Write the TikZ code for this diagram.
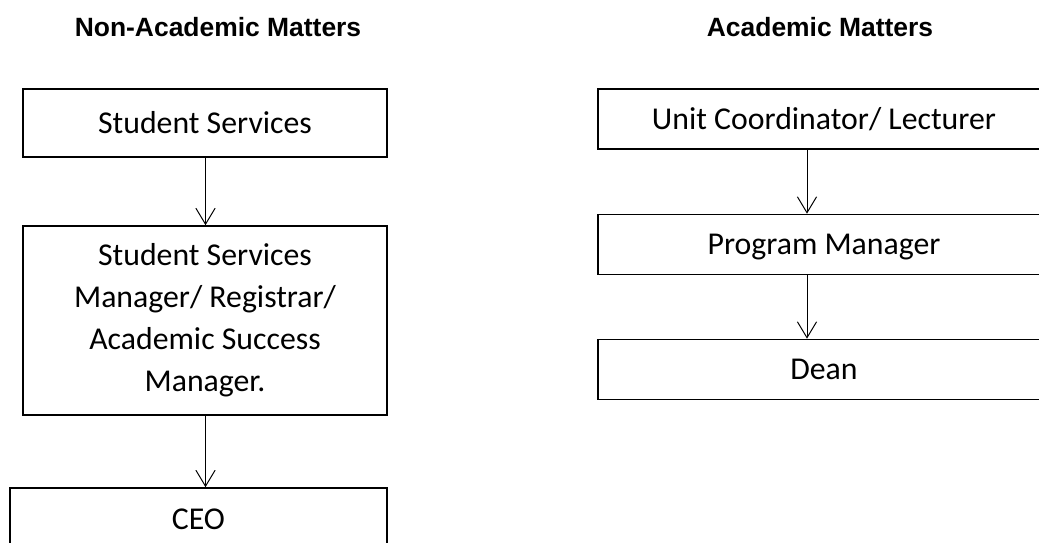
\documentclass[tikz,border=0pt]{standalone}
\usepackage{fontspec}
\setmainfont{Carlito}
\newfontfamily\headfont{Liberation Sans}
\usepackage{tikz}
\usetikzlibrary{positioning, arrows.meta}
\definecolor{boxInk}{HTML}{000000}
\tikzset{
  unitbox/.style={draw=boxInk, line width=1.1pt, inner sep=2pt, align=center,
    font=\fontsize{22.6}{29.8}\selectfont},
  oneline/.style={unitbox, text height=14.6pt, text depth=0pt},
  heading/.style={anchor=base, font=\headfont\bfseries\fontsize{18.8}{22}\selectfont},
  flow/.style={-{Straight Barb[length=0.4cm, width=0.48cm]}, line width=0.7pt},
}

\begin{document}
\begin{tikzpicture}[x=0.025cm, y=-0.025cm]
      \clip (0,0) rectangle (1039,543);
      \fill[white] (0,0) rectangle (1039,543);
      % column headings
      \node[heading] (hnon) at (218,37) {Non-Academic Matters};
      \node[heading] (hacad) at (820,37) {Academic Matters};
      % non-academic chain
      \node[oneline, minimum width=9.1cm, minimum height=1.7cm] (services) at (205,123) {Student Services};
      \node[unitbox, minimum width=9.1cm, minimum height=4.725cm] (registrar) at (205,320.5)
        {Student Services\\Manager/ Registrar/\\Academic Success\\Manager.};
      \node[oneline, minimum width=9.425cm, minimum height=1.55cm] (ceo) at (198.5,519) {CEO};
      % academic chain
      \node[oneline, minimum width=11.3cm, minimum height=1.5cm] (lecturer) at (824,119) {Unit Coordinator/ Lecturer};
      \node[oneline, minimum width=11.3cm, minimum height=1.5cm] (progman) at (824,244.5) {Program Manager};
      \node[oneline, minimum width=11.3cm, minimum height=1.5cm] (dean) at (824,369.5) {Dean};
      \coordinate (lline) at (205.5,0);
      \coordinate (rline) at (807,0);
      \draw[flow] (services.south -| lline) -- (registrar.north -| lline);
      \draw[flow] (registrar.south -| lline) -- (ceo.north -| lline);
      \draw[flow] (lecturer.south -| rline) -- (progman.north -| rline);
      \draw[flow] (progman.south -| rline) -- (dean.north -| rline);
    \end{tikzpicture}
\end{document}
